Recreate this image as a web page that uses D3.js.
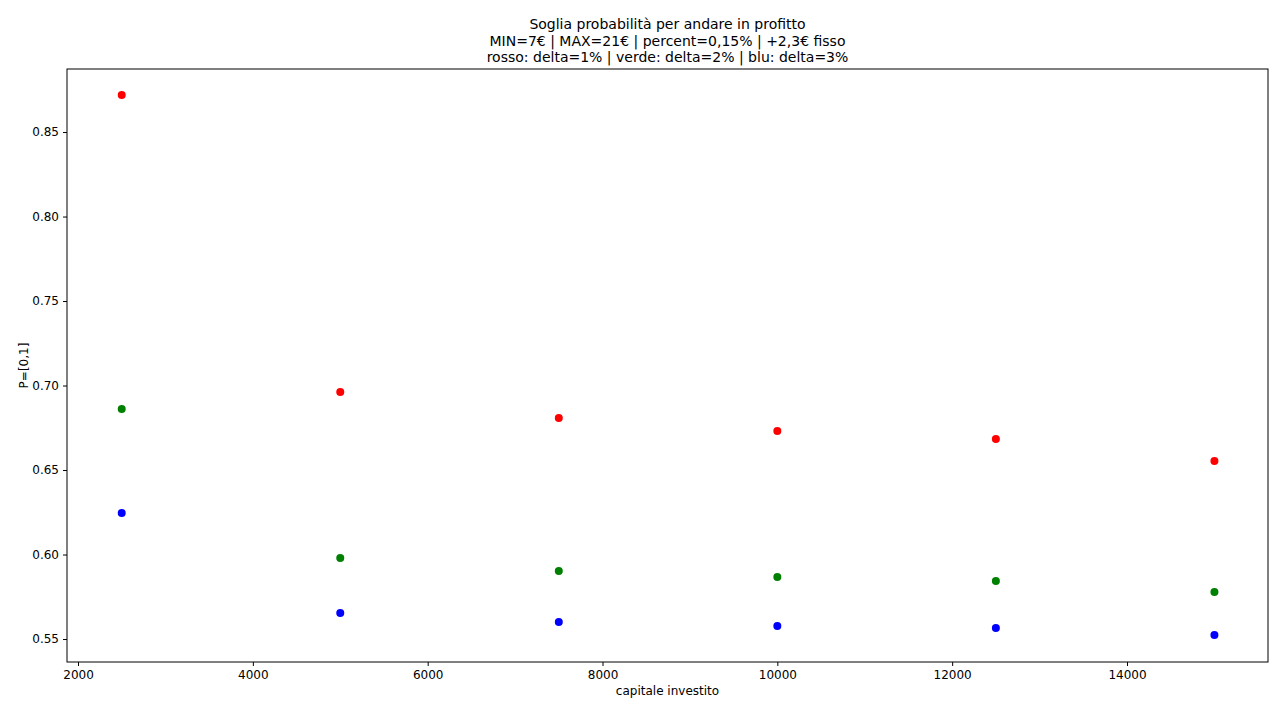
<!DOCTYPE html>
<html><head><meta charset="utf-8">
<script src="https://cdn.jsdelivr.net/npm/d3@7"></script>
<style>body{margin:0;background:#fff}text{font-family:"DejaVu Sans",sans-serif}</style>
</head><body><svg id="c" width="1280" height="708"></svg>
<script>
const capitals=[2500,5000,7500,10000,12500,15000];
const red=[0.8719,0.6962,0.6808,0.6731,0.6683,0.6553];
const green=[0.6861,0.5979,0.5902,0.5867,0.5843,0.5778];
const blue=[0.6246,0.5654,0.5601,0.5577,0.5565,0.5524];
const titleLines=["Soglia probabilità per andare in profitto","MIN=7€ | MAX=21€ | percent=0,15% | +2,3€ fisso","rosso: delta=1% | verde: delta=2% | blu: delta=3%"];
const xTicks=[2000,4000,6000,8000,10000,12000,14000];
const yTicks=[0.55,0.60,0.65,0.70,0.75,0.80,0.85];
const svg=d3.select("#c");
const L=67,R=1268,T=69,B=662;
const x=d3.scaleLinear().domain([1874,15613]).range([L,R]);
const y=d3.scaleLinear().domain([0.5364,0.8873]).range([B,T]);
const gx=svg.append("g").attr("transform",`translate(0,${B})`).call(d3.axisBottom(x).tickValues(xTicks).tickFormat(d3.format("d")).tickSizeOuter(0).tickSize(4).tickPadding(4));
const gy=svg.append("g").attr("transform",`translate(${L},0)`).call(d3.axisLeft(y).tickValues(yTicks).tickFormat(d3.format(".2f")).tickSizeOuter(0).tickSize(4).tickPadding(4));
[gx,gy].forEach(g=>{g.select(".domain").remove();g.selectAll("text").attr("font-size",12).attr("fill","#000").style("font-family","DejaVu Sans");});
svg.append("rect").attr("x",L).attr("y",T).attr("width",R-L).attr("height",B-T).attr("fill","none").attr("stroke","#000").attr("stroke-width",1);
[[red,"#ff0000"],[green,"#008000"],[blue,"#0000ff"]].forEach(([s,c])=>{
 svg.append("g").selectAll("circle").data(s).join("circle").attr("cx",(d,i)=>x(capitals[i])).attr("cy",d=>y(d)).attr("r",4).attr("fill",c);
});
svg.append("text").attr("x",(L+R)/2).attr("y",695).attr("text-anchor","middle").attr("font-size",12).text("capitale investito");
svg.append("text").attr("transform",`translate(28,${(T+B)/2}) rotate(-90)`).attr("text-anchor","middle").attr("font-size",12).text("P=[0,1]");
titleLines.forEach((t,i)=>svg.append("text").attr("x",(L+R)/2).attr("y",29+i*16.5).attr("text-anchor","middle").attr("font-size",14).text(t));
</script></body></html>
